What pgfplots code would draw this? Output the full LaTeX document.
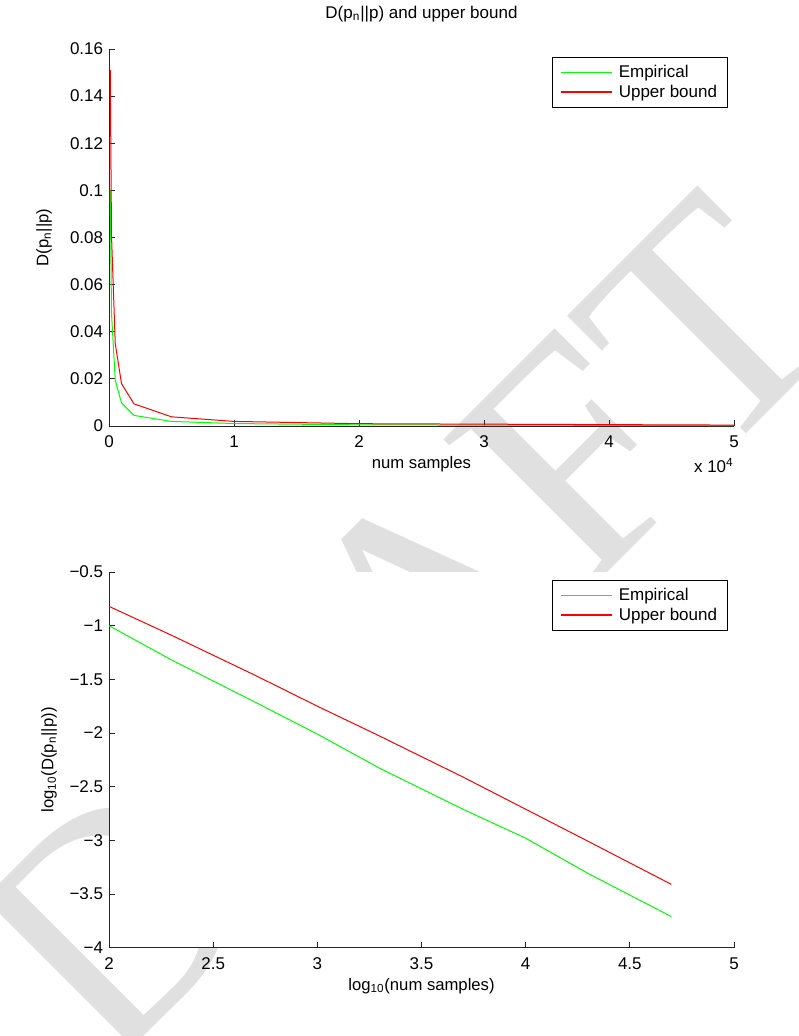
\documentclass[border=0pt]{standalone}
\usepackage{fontspec}
\setmainfont{Liberation Sans}
\newfontfamily\wmfont{Liberation Serif}
\usepackage{pgfplots}
\pgfplotsset{compat=1.18}

% 1 px of the reference = 0.6pt
\newcommand\lbl{\fontsize{10.2}{12.2}\selectfont}

\definecolor{mgreen}{rgb}{0,1,0}
\definecolor{mred}{rgb}{1,0,0}

\pgfplotsset{
  matlab/.style={
    scale only axis, width=375pt,
    axis x line*=bottom, axis y line*=left,
    axis line style={-, black!85, line width=0.5pt},
    tick align=inside, major tick length=3.6pt,
    tick style={black!85, line width=0.5pt},
    scaled ticks=false,
    tick label style={font=\lbl},
    xticklabel style={yshift=-2.5pt},
    label style={font=\lbl},
    every axis x label/.style={at={(0.5,0)}, anchor=center, yshift=-23pt},
    legend style={at={(1,1)}, anchor=north east, xshift=-3.6pt, yshift=-4.8pt,
      draw=black, line width=0.5pt, font=\lbl, legend cell align=left,
      inner xsep=4.8pt, inner ysep=3pt, column sep=2pt,
      nodes={inner sep=1.5pt}},
    legend image code/.code={\draw[#1, line width=0.9pt] (0pt,0pt) -- (30.6pt,0pt);},
    every axis plot/.append style={line width=0.6pt},
  }
}

\begin{document}
\begin{tikzpicture}
\useasboundingbox (0,0) rectangle (479.4pt,-621.6pt);

% DRAFT watermark
\node[rotate=45, text=black!12, font=\wmfont\fontsize{192}{192}\selectfont, anchor=center]
  at (242.4pt,-376.2pt) {DRAFT};

% top panel: linear scale
\begin{axis}[matlab,
  at={(65.4pt,-255.6pt)}, anchor=south west, height=226.2pt,
  xmin=0, xmax=50000, ymin=0, ymax=0.16,
  xtick={0,10000,20000,30000,40000,50000},
  xticklabels={0,1,2,3,4,5},
  ytick={0,0.02,0.04,0.06,0.08,0.1,0.12,0.14,0.16},
  yticklabels={0,0.02,0.04,0.06,0.08,0.1,0.12,0.14,0.16},
  title={D(p\textsubscript{n}||p) and upper bound},
  title style={at={(0.5,1)}, anchor=center, yshift=15pt, font=\lbl},
  xlabel={num samples},
  ylabel={D(p\textsubscript{n}||p)},
  every axis y label/.style={at={(axis description cs:-0.104,0.5)}, rotate=90, anchor=center},
]
\addplot[draw=mgreen] coordinates {
  (100,0.100) (200,0.048) (500,0.0195) (1000,0.0098) (2000,0.0045)
  (5000,0.00195) (10000,0.00105) (20000,0.00049) (50000,0.000195)};
\addlegendentry{Empirical}
\addplot[draw=mred] coordinates {
  (100,0.151) (200,0.081) (500,0.0350) (1000,0.0180) (2000,0.0094)
  (5000,0.0039) (10000,0.00195) (20000,0.00098) (50000,0.00039)};
\addlegendentry{Upper bound}
\end{axis}
\node[anchor=north east, inner sep=0pt, font=\lbl] at (440.4pt,-275pt)
  {x 10\textsuperscript{4}};

% bottom panel: log-log values, white plot area hides the watermark
\begin{axis}[matlab,
  at={(65.4pt,-568.6pt)}, anchor=south west, height=225.4pt,
  axis background/.style={fill=white},
  xmin=2, xmax=5, ymin=-4, ymax=-0.5,
  xtick={2,2.5,3,3.5,4,4.5,5},
  xticklabels={2,2.5,3,3.5,4,4.5,5},
  ytick={-4,-3.5,-3,-2.5,-2,-1.5,-1,-0.5},
  yticklabels={−4,−3.5,−3,−2.5,−2,−1.5,−1,−0.5},
  xlabel={log\textsubscript{10}(num samples)},
  ylabel={log\textsubscript{10}(D(p\textsubscript{n}||p))},
  every axis y label/.style={at={(axis description cs:-0.096,0.5)}, rotate=90, anchor=center},
]
\addplot[draw=mgreen] coordinates {
  (2,-1.00) (2.301,-1.32) (2.699,-1.71) (3,-2.01) (3.301,-2.33)
  (3.699,-2.71) (4,-2.98) (4.301,-3.31) (4.699,-3.71)};
\addlegendentry{Empirical}
\addplot[draw=mred] coordinates {
  (2,-0.82) (2.301,-1.09) (2.699,-1.46) (3,-1.75) (3.301,-2.03)
  (3.699,-2.41) (4,-2.71) (4.301,-3.01) (4.699,-3.41)};
\addlegendentry{Upper bound}
\end{axis}
\end{tikzpicture}
\end{document}
